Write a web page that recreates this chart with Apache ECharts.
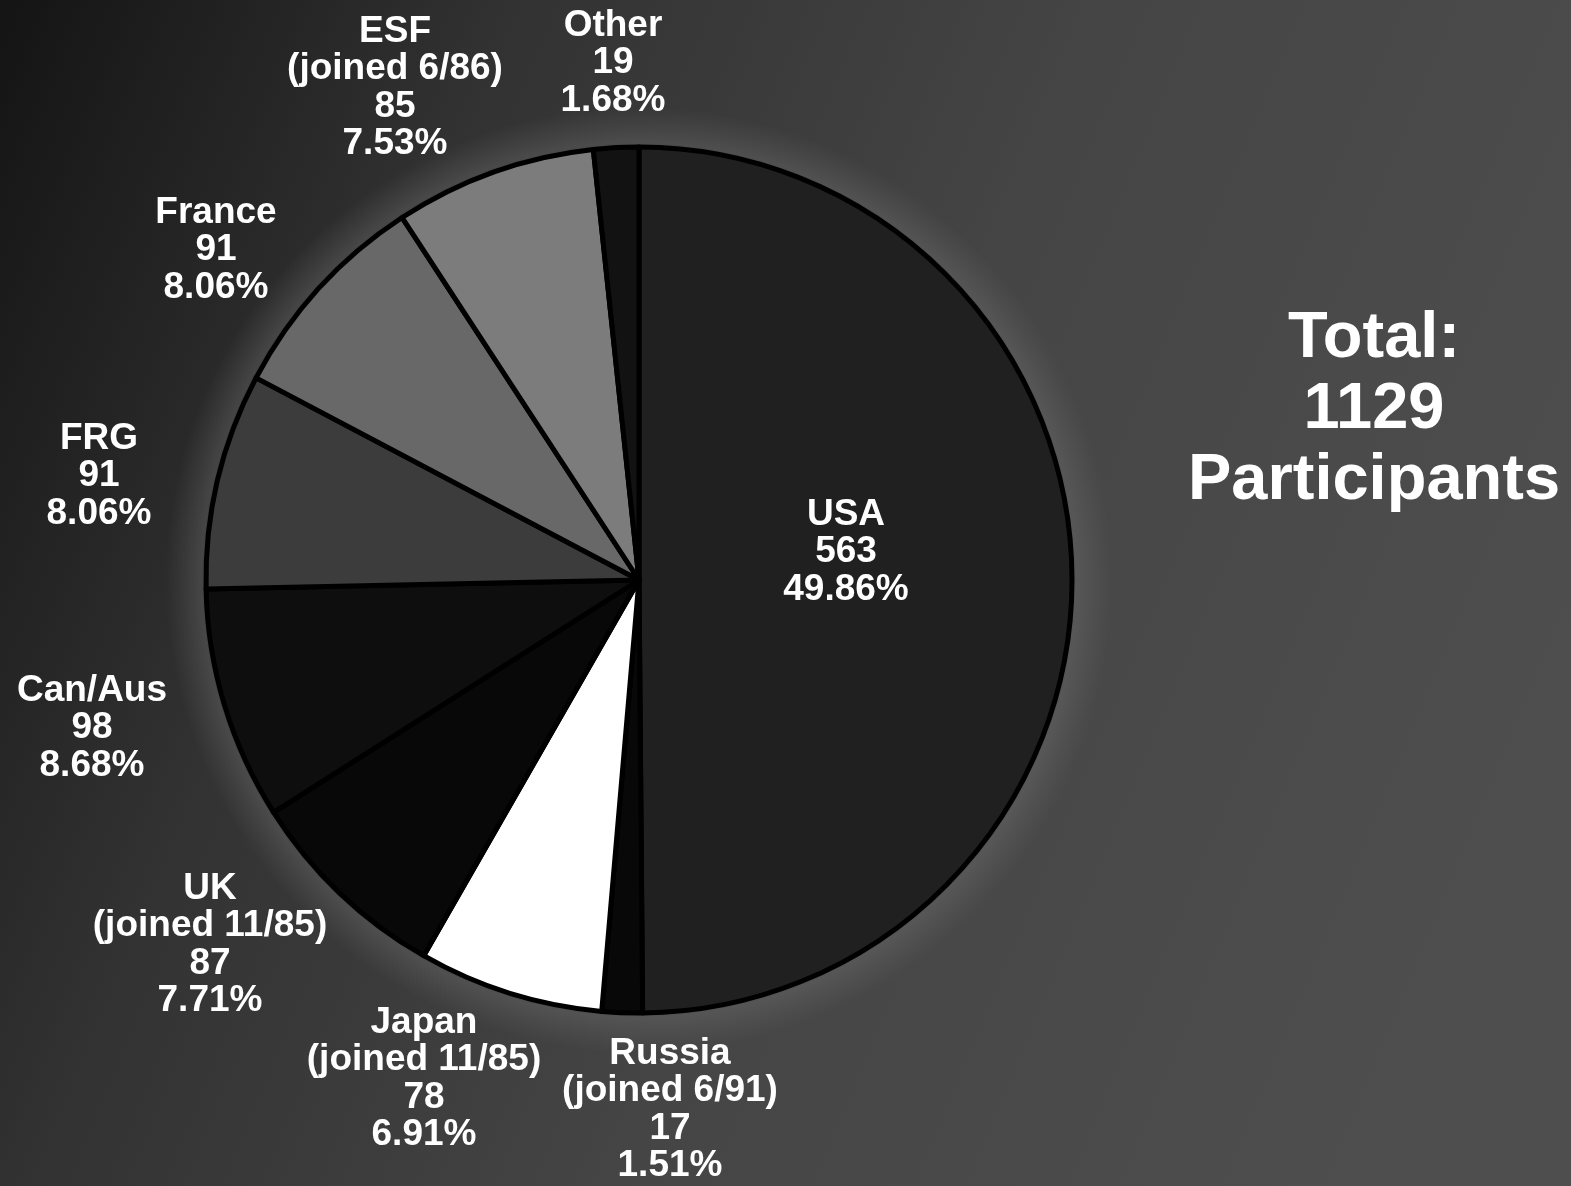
<!DOCTYPE html>
<html>
<head>
<meta charset="utf-8">
<title>Participants by member</title>
<script src="https://cdn.jsdelivr.net/npm/echarts@6/dist/echarts.min.js"></script>
<style>
  html, body { margin: 0; padding: 0; background: #2e2e2e; }
  #chart { width: 1571px; height: 1186px; }
</style>
</head>
<body>
<div id="chart"></div>
<script>
// Participants per member, clockwise from 12 o'clock
const members = ['USA', 'Russia', 'Japan', 'UK', 'Can/Aus', 'FRG', 'France', 'ESF', 'Other'];
const joined = ['', '(joined 6/91)', '(joined 11/85)', '(joined 11/85)', '', '', '', '(joined 6/86)', ''];
const participants = [563, 17, 78, 87, 98, 91, 91, 85, 19];
const shares = ['49.86%', '1.51%', '6.91%', '7.71%', '8.68%', '8.06%', '8.06%', '7.53%', '1.68%'];

// Slice fills
const fills = ['#202020', '#080808', '#ffffff', '#080808', '#0e0e0e', '#3c3c3c', '#686868', '#7c7c7c', '#121212'];
// Label block centres (px)
const labelAt = [
  [846, 552], [670, 1110], [424, 1079], [210, 945], [92, 728],
  [99, 476], [216, 250], [395, 88], [613, 63]
];

const total = participants.reduce((a, b) => a + b, 0);
const CENTER = [639, 580];
const RADIUS = 433;
const FONT = '"Liberation Sans", Arial, Helvetica, sans-serif';

const chart = echarts.init(document.getElementById('chart'), null, { renderer: 'canvas' });

const pieData = members.map((m, i) => ({
  name: m,
  value: participants[i],
  itemStyle: { color: fills[i] }
}));

chart.setOption({
  animation: false,
  backgroundColor: {
    type: 'linear', x: 0, y: 0, x2: 1, y2: 0.55,
    colorStops: [
      { offset: 0, color: '#141414' },
      { offset: 0.28, color: '#323232' },
      { offset: 0.6, color: '#454545' },
      { offset: 1, color: '#4e4e4e' }
    ]
  },
  graphic: [{
    type: 'text',
    x: 1374,
    y: 410,
    silent: true,
    style: {
      text: 'Total:\n' + total + '\nParticipants',
      fill: '#ffffff',
      font: 'bold 65px ' + FONT,
      lineHeight: 71,
      align: 'center',
      verticalAlign: 'middle'
    }
  }],
  series: [
    {
      // soft light rim around the pie
      type: 'pie',
      silent: true,
      center: CENTER,
      radius: [RADIUS - 10, RADIUS + 40],
      label: { show: false },
      labelLine: { show: false },
      z: 1,
      data: [{
        value: 1,
        itemStyle: {
          color: {
            type: 'radial', x: 0.5, y: 0.5, r: 0.5,
            colorStops: [
              { offset: 0, color: 'rgba(110,110,110,0)' },
              { offset: 0.9, color: 'rgba(110,110,110,0)' },
              { offset: 0.925, color: 'rgba(115,115,115,0.35)' },
              { offset: 1, color: 'rgba(110,110,110,0)' }
            ]
          }
        }
      }]
    },
    {
      type: 'pie',
      center: CENTER,
      radius: RADIUS,
      startAngle: 90,
      clockwise: true,
      avoidLabelOverlap: false,
      z: 2,
      itemStyle: { borderColor: '#000000', borderWidth: 5 },
      label: {
        show: true,
        position: 'outside',
        color: '#ffffff',
        fontFamily: FONT,
        fontWeight: 'bold',
        fontSize: 37,
        lineHeight: 37.5,
        align: 'center',
        formatter: (p) => {
          const i = p.dataIndex;
          const lines = [members[i]];
          if (joined[i]) lines.push(joined[i]);
          lines.push(String(participants[i]));
          lines.push(shares[i]);
          return lines.join('\n');
        }
      },
      labelLine: { show: false },
      labelLayout: (p) => ({
        x: labelAt[p.dataIndex][0],
        y: labelAt[p.dataIndex][1],
        align: 'center',
        verticalAlign: 'middle'
      }),
      emphasis: { disabled: true },
      data: pieData
    }
  ]
});
</script>
</body>
</html>
